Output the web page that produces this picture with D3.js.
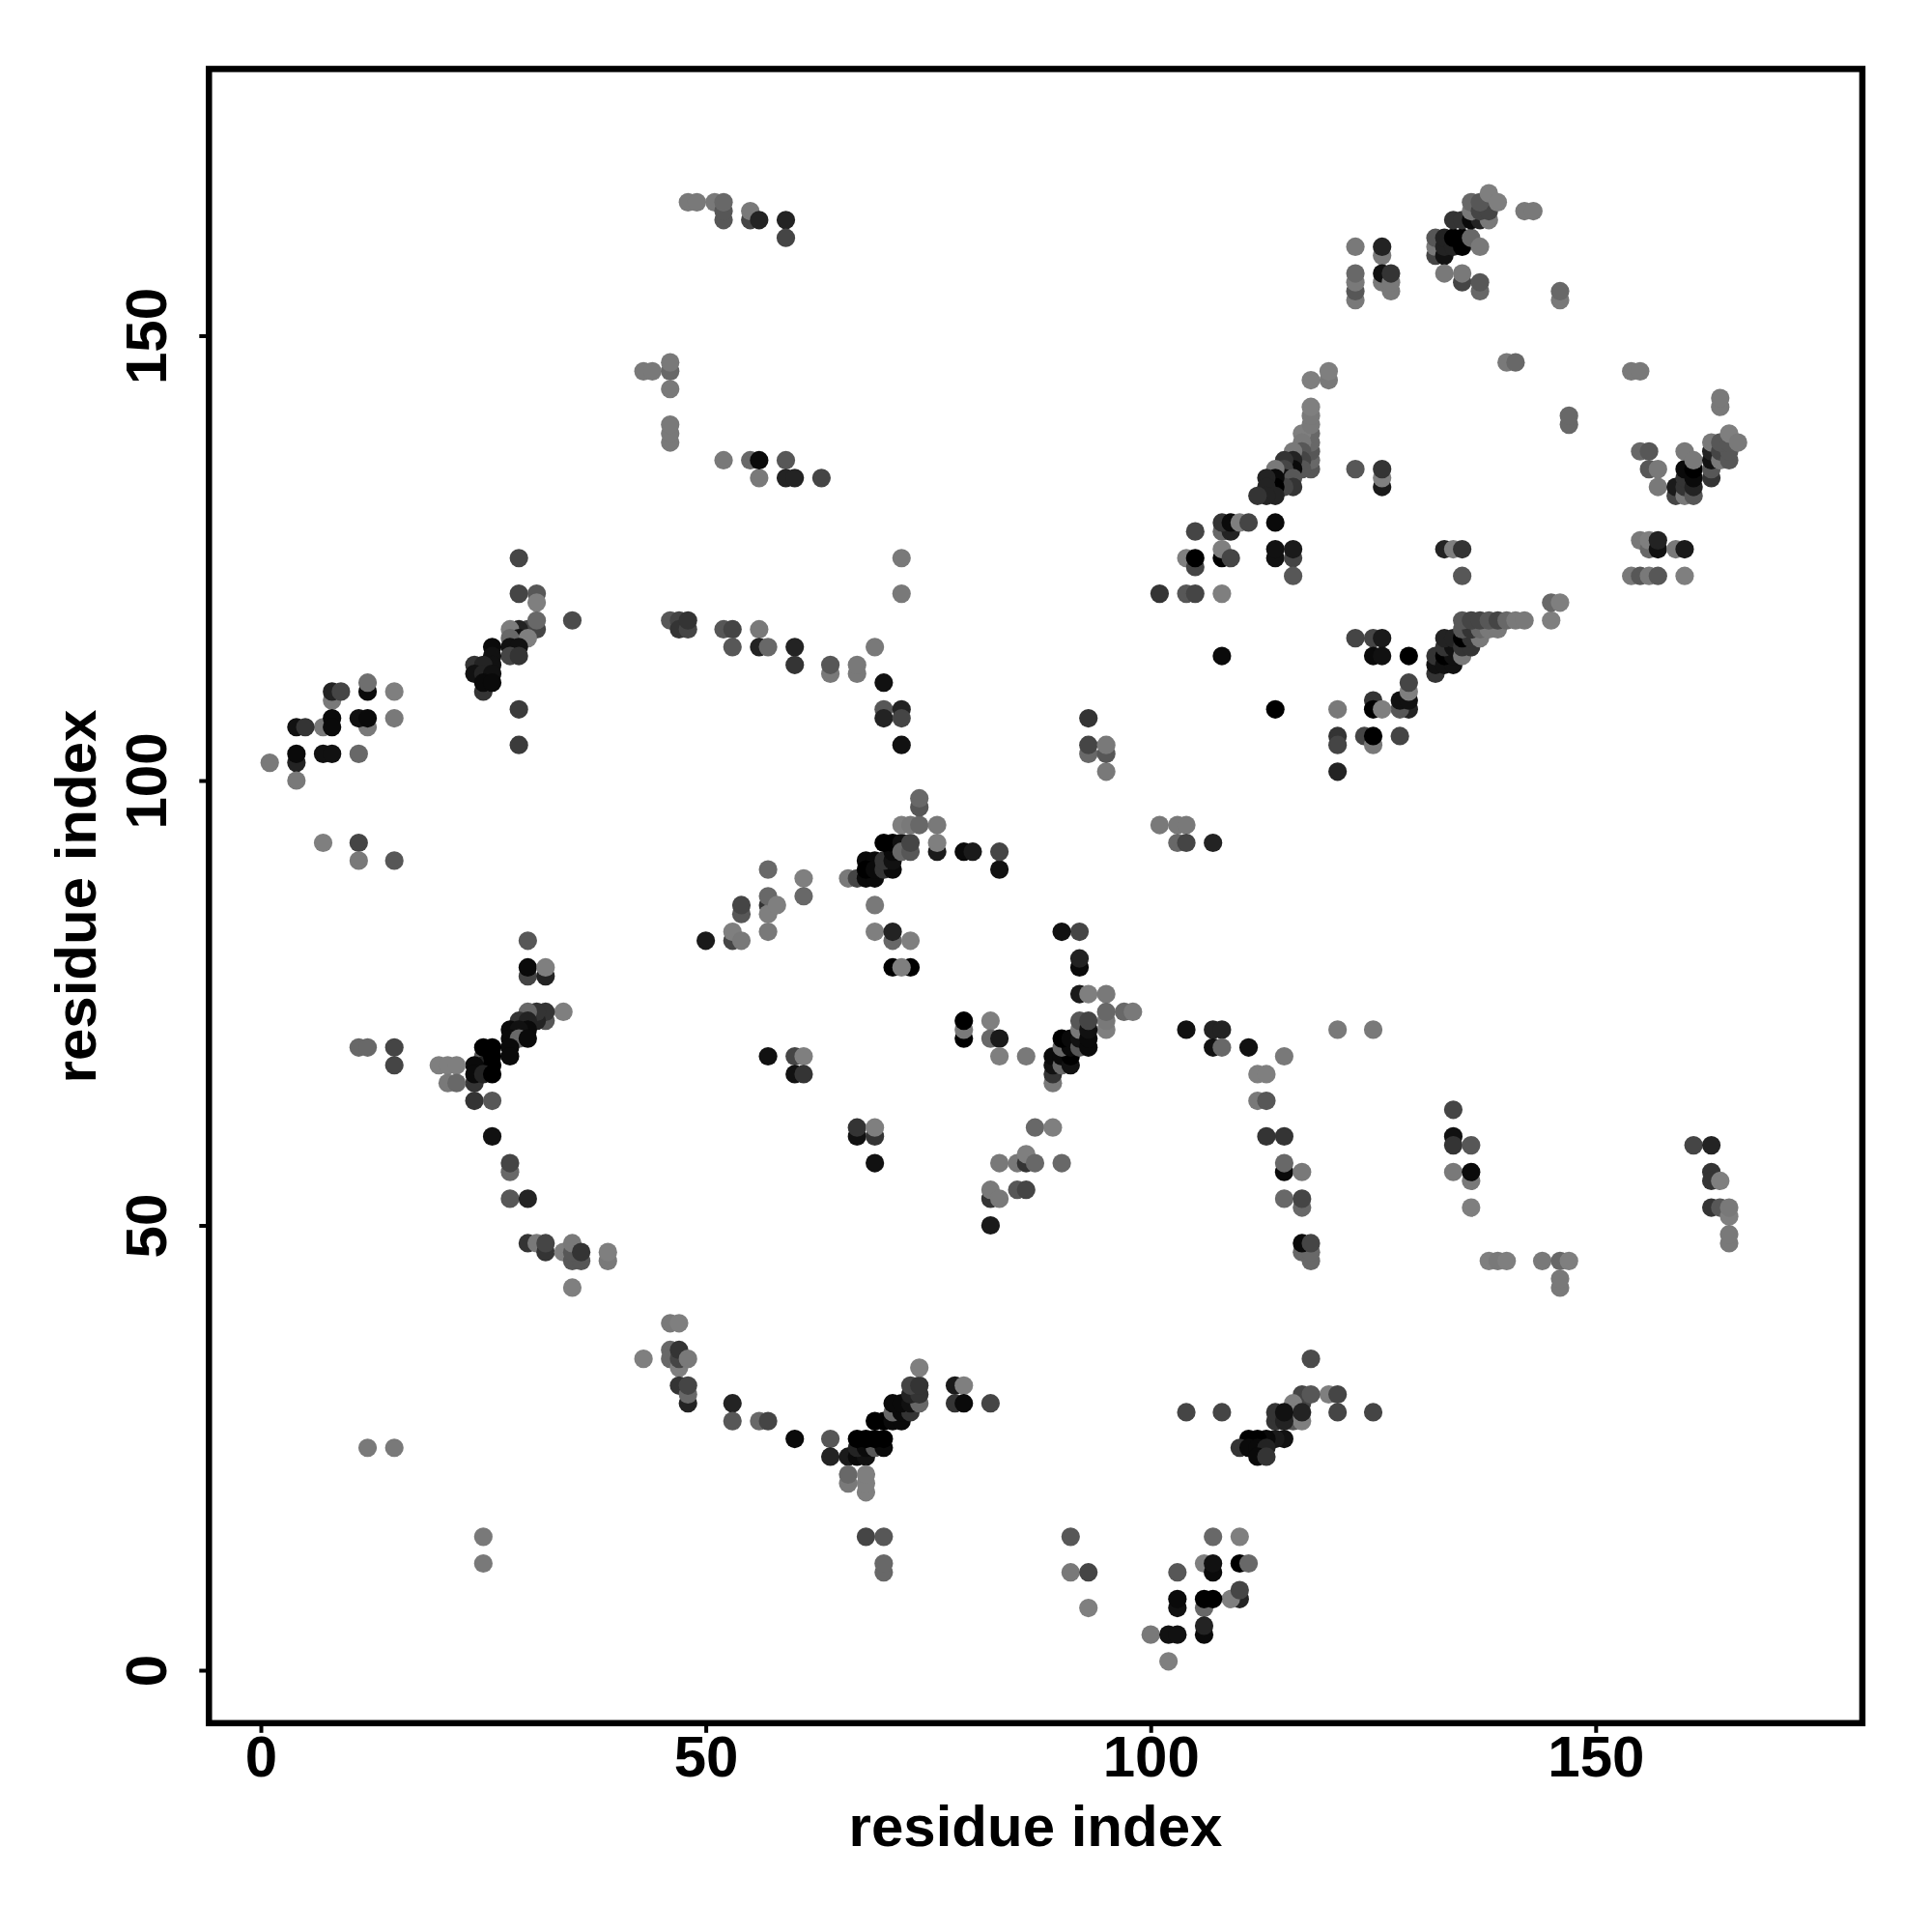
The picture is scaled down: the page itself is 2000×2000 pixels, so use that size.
<!DOCTYPE html>
<html><head><meta charset="utf-8">
<script src="https://cdn.jsdelivr.net/npm/d3@7"></script>
<style>html,body{margin:0;padding:0;background:#fff}svg{display:block}</style>
</head><body><svg id="c" width="2000" height="2000"></svg>
<script>
// each contact: [residue i, residue j, score]
const upperLeftA=[[29,125,47],[29,121,47],[31,121,33],[31,120,2],[35,118,42],[31,117,47],[30,117,47],[29,117,73],[28,117,4],[29,116,87],[28,116,20],[30,116,2],[31,118,20],[28,115,87],[29,115,87],[28,114,47],[29,114,60],[26,115,92],[26,114,87],[26,113,87],[24,113,60],[25,113,73],[24,112,87],[25,112,73],[26,112,87],[25,110,60],[25,111,92],[26,111,92],[29,108,55],[29,104,55]];
const upperLeftB=[[12,110,92],[12,111,15],[15,110,2],[8,109,7],[8,110,73],[9,110,47],[12,106,7],[11,107,87],[12,107,92],[15,107,7],[7,106,7],[8,107,92],[8,106,92],[4,106,87],[5,106,60],[4,102,73],[4,103,92],[7,103,87],[8,103,87],[11,103,20],[1,102,7],[4,100,7],[7,93,2],[11,93,47],[11,91,7],[15,91,33]];
const midLeft=[[30,82,33],[30,78,47],[30,79,92],[32,78,73],[32,79,2],[34,74,2],[32,73,33],[32,74,60],[31,73,73],[31,74,60],[30,74,20],[29,73,60],[30,73,73],[30,72,92],[28,72,92],[29,72,87],[28,71,92],[29,71,20],[30,71,92],[28,70,92],[28,69,92],[25,69,33],[25,68,73],[25,70,100],[26,70,100],[26,69,100],[24,68,92],[26,68,100],[24,66,60],[24,67,92],[25,67,73],[26,67,100],[20,68,2],[21,68,2],[22,68,2],[21,66,7],[22,66,20],[24,64,60],[26,64,33],[26,60,87],[28,56,20],[28,57,47],[28,53,33],[30,53,73],[30,48,60],[31,48,7],[32,47,60],[32,48,47],[34,47,2],[35,46,33],[36,46,33],[35,47,33],[35,48,7],[36,47,60],[39,46,7],[39,47,2],[35,43,2],[11,70,20],[12,70,20],[15,70,47],[15,68,47],[12,25,7],[15,25,7],[25,15,7],[25,12,7]];
const midCentre=[[50,82,80],[53,82,47],[53,83,2],[54,82,7],[54,85,33],[54,86,47],[57,90,20],[57,86,60],[57,85,2],[57,87,20],[58,86,2],[57,83,7],[61,89,2],[61,87,20],[66,89,7],[67,89,47],[68,89,92],[69,89,92],[68,91,92],[69,91,92],[68,90,100],[69,90,92],[70,90,60],[71,90,92],[70,91,60],[71,91,87],[71,92,92],[70,93,100],[71,93,100],[72,93,87],[72,92,20],[73,92,33],[73,93,47],[72,95,2],[73,95,7],[74,95,20],[74,97,33],[74,98,20],[76,92,80],[76,93,2],[76,95,7],[79,92,92],[80,92,80],[83,90,87],[83,92,47],[69,86,7],[69,83,2],[71,82,20],[71,83,73],[73,82,2],[71,79,100],[73,79,100],[72,79,2],[79,71,100],[79,72,7],[79,73,100],[82,73,2],[82,71,20],[83,71,80],[83,69,2],[86,69,7],[57,69,87],[60,69,47],[61,69,2],[60,67,87],[61,67,60],[67,60,87],[69,60,60],[67,61,60],[69,61,2],[69,57,87]];
const lowerCentre=[[46,39,7],[47,39,2],[43,35,2],[46,36,20],[46,35,20],[47,34,2],[47,35,47],[47,36,60],[48,35,7],[47,32,60],[48,30,73],[48,31,20],[48,32,47],[53,30,73],[53,28,33],[56,28,20],[57,28,47],[60,26,92],[64,26,33],[64,24,73],[66,24,80],[67,24,92],[68,24,87],[67,25,73],[68,25,92],[69,25,33],[70,25,92],[67,26,100],[68,26,100],[69,26,100],[70,26,100],[69,28,100],[70,28,100],[71,28,92],[72,28,92],[71,29,20],[72,29,92],[73,29,60],[71,30,92],[72,30,92],[73,30,87],[74,30,20],[73,31,73],[74,31,60],[73,32,47],[74,32,60],[74,34,2],[66,21,7],[66,22,20],[68,20,2],[68,21,2],[68,22,2],[68,15,47],[70,15,33],[70,11,20],[70,12,20],[78,32,80],[79,32,2],[78,30,60],[79,30,92],[82,30,47]];
const lowerRight=[[91,15,33],[91,11,7],[93,11,47],[93,7,2],[118,35,42],[104,29,47],[108,29,47],[121,29,47],[125,29,47],[120,31,2],[121,31,47],[117,31,47],[117,30,47],[116,30,2],[118,31,33],[116,28,33],[117,28,2],[117,29,73],[114,28,60],[114,29,60],[115,28,73],[115,29,87],[115,26,87],[114,26,80],[113,26,92],[112,26,100],[111,26,100],[110,25,60],[111,25,92],[112,25,92],[113,25,73],[112,24,92],[113,24,60],[107,15,20],[110,15,2],[106,12,2],[107,11,92],[107,12,87],[110,12,100],[111,12,20],[103,11,33],[110,8,73],[109,8,2],[110,9,47],[103,7,87],[103,8,92],[106,7,20],[106,8,100],[107,8,100],[106,4,92],[106,5,73],[100,4,7],[102,4,87],[103,4,87],[102,1,2]];
const midRightA=[[92,83,47],[90,83,87],[92,79,92],[92,80,73],[92,76,80],[93,76,2],[95,76,7],[95,72,2],[95,73,7],[95,74,20],[97,74,20],[98,74,7],[89,66,7],[89,67,60],[89,68,87],[89,69,92],[90,68,20],[90,69,92],[91,68,87],[91,69,100],[90,70,20],[91,70,92],[90,71,100],[91,71,92],[92,70,33],[92,71,87],[92,72,7],[92,73,33],[93,70,92],[93,71,92],[93,72,87],[93,73,47],[87,61,20],[89,61,2],[83,57,7],[85,57,7],[86,57,60],[86,58,2],[87,57,20],[90,57,20],[82,53,60],[82,54,7],[83,53,7],[85,54,33],[86,54,47],[82,50,80]];
const midRightB=[[104,72,87],[107,72,73],[108,72,73],[107,70,87],[108,70,20],[111,70,87],[115,69,7],[112,67,2],[113,67,2],[112,64,7],[113,64,33],[113,60,60],[115,60,60],[115,56,92],[115,57,20],[117,56,7],[115,53,20],[117,52,20],[117,53,47],[117,47,20],[118,46,20],[118,47,20],[117,48,92],[118,48,47],[121,72,7],[125,72,7]];
const farRightLow=[[134,63,47],[134,60,87],[134,59,60],[136,59,33],[134,56,7],[136,55,7],[136,56,92],[136,52,2],[138,46,2],[139,46,7],[140,46,2],[144,46,7],[146,46,20],[147,46,2],[146,43,7],[146,44,7],[161,59,47],[163,59,73],[163,56,60],[163,55,60],[164,55,2],[163,52,60],[164,52,33],[165,51,2],[165,52,7],[165,48,7],[165,49,7]];
const diagUpperA=[[118,145,2],[120,145,7],[120,146,2],[118,135,33],[118,136,20],[118,137,33],[118,138,20],[118,139,20],[117,139,2],[117,138,7],[118,140,7],[118,141,7],[118,142,2],[117,137,33],[117,136,47],[117,135,33],[116,137,7],[116,136,73],[116,135,92],[115,136,60],[115,135,47],[115,134,87],[116,134,33],[116,133,60],[115,133,47],[114,135,7],[114,134,92],[114,133,100],[113,134,73],[113,133,73],[114,132,73],[113,132,73],[112,132,60],[108,128,20],[109,128,73],[108,129,60],[109,129,92],[110,129,2],[111,129,47],[105,128,47],[114,129,92],[114,125,87],[114,126,87],[116,125,47],[116,126,80],[116,123,33],[108,125,100],[108,126,2],[109,125,47],[104,125,2],[105,124,47],[105,125,100],[101,121,60],[104,121,33],[105,121,47],[108,121,2],[123,135,33],[126,133,80],[126,134,2],[126,135,60],[133,126,73],[134,126,2],[135,126,60],[135,123,33],[108,114,92],[114,108,100],[121,108,7]];
const diagUpperB=[[123,116,47],[125,116,47],[126,116,80],[125,114,92],[126,114,87],[129,114,100],[129,108,73],[128,108,33],[128,109,87],[129,109,87],[129,110,2],[129,111,47],[125,109,60],[125,108,100],[126,108,2],[121,105,60],[121,104,47],[124,105,47],[125,104,7],[125,105,100],[128,105,47],[121,101,73],[132,112,60],[132,113,87],[132,114,60],[133,113,87],[134,113,87],[133,114,100],[134,114,87],[133,115,60],[134,115,87],[133,116,73],[134,116,73],[135,114,7],[135,115,60],[136,115,60],[135,116,100],[136,116,60],[137,116,7],[135,117,33],[136,117,60],[137,117,20],[138,117,7],[139,117,7],[135,118,33],[136,118,47],[137,118,47],[138,118,33],[139,118,47],[140,118,20],[141,118,7],[142,118,7],[145,118,2],[145,120,20],[146,120,2]];
const topRight=[[123,154,7],[123,155,33],[123,156,7],[123,157,20],[123,160,7],[126,159,7],[126,160,73],[126,156,7],[126,157,87],[127,155,7],[127,156,7],[127,157,60],[132,159,47],[132,160,7],[132,161,33],[133,159,87],[133,160,73],[133,161,73],[134,160,73],[134,161,100],[135,160,100],[135,161,100],[136,161,20],[137,160,7],[134,163,60],[135,163,60],[136,163,92],[137,163,73],[138,163,7],[136,164,7],[136,165,20],[137,164,47],[138,164,47],[137,165,33],[138,166,2],[139,165,2],[142,164,7],[143,164,7],[133,157,7],[135,156,47],[135,157,7],[137,155,20],[137,156,33],[146,154,7],[146,155,20],[140,147,7],[141,147,20],[147,140,20],[147,141,20]];
const farRightUp=[[154,146,7],[155,146,7],[164,142,7],[164,143,7],[155,137,20],[156,137,33],[156,135,33],[157,135,7],[157,133,7],[159,132,47],[159,133,80],[160,132,7],[160,133,60],[160,134,60],[160,135,92],[161,132,33],[161,133,73],[161,134,92],[161,135,100],[160,137,7],[161,136,7],[163,134,60],[163,135,33],[163,136,87],[163,137,73],[163,138,7],[164,136,7],[164,137,47],[165,136,33],[165,137,33],[164,138,33],[165,138,33],[165,139,2],[166,138,7],[155,127,7],[156,126,20],[156,127,2],[157,126,87],[157,127,73],[159,126,7],[160,126,80],[154,123,7],[155,123,33],[156,123,7],[157,123,33],[160,123,2]];
const upperCentre=[[48,165,7],[49,165,7],[51,165,7],[52,163,33],[52,164,33],[52,165,20],[55,163,47],[55,164,7],[56,163,73],[59,163,73],[59,161,47],[43,146,7],[44,146,7],[46,146,20],[46,147,7],[46,144,7],[46,138,7],[46,139,7],[46,140,7],[52,136,7],[55,136,20],[56,134,7],[56,136,92],[59,136,33],[59,134,73],[60,134,73],[63,134,47],[72,125,7],[72,121,7],[46,118,33],[47,118,47],[47,117,60],[48,117,47],[48,118,60],[52,117,33],[53,117,47],[53,115,33],[56,117,7],[56,115,73],[57,115,20],[60,115,73],[60,113,60],[64,112,7],[64,113,33],[67,112,7],[67,113,7],[69,115,7],[70,111,87],[70,108,33],[70,107,73],[72,108,73],[72,107,47],[72,104,87],[93,107,60],[93,103,20],[93,104,47],[95,101,7],[95,103,33],[95,104,7],[101,95,7],[103,95,7],[104,95,7],[103,93,20],[104,93,47],[107,93,73]];

const contacts=[upperLeftA,upperLeftB,midLeft,midCentre,lowerCentre,lowerRight,midRightA,midRightB,farRightLow,diagUpperA,diagUpperB,topRight,farRightUp,upperCentre].flat();
const axisTicks=[0,50,100,150];
const axisLabel="residue index";

const svg=d3.select("#c");
const x=d3.scaleLinear().domain([-5.83,179.97]).range([216.3,1927.9]);
const y=d3.scaleLinear().domain([-5.95,179.98]).range([1783.8,71.4]);
const shade=d3.scaleLinear().domain([0,100]).range(["#828282","#000000"]);
const font="'Liberation Sans',Arial,sans-serif";

svg.append("rect").attr("width",2000).attr("height",2000).attr("fill","#fff");
svg.append("g").selectAll("circle").data(contacts).join("circle")
  .attr("cx",d=>x(d[0])).attr("cy",d=>y(d[1])).attr("r",9.6)
  .attr("fill",d=>shade(d[2]));

const ax=svg.append("g").attr("transform","translate(0,1783.8)")
  .call(d3.axisBottom(x).tickValues(axisTicks).tickSize(10).tickPadding(6).tickFormat(d3.format("d")));
const ay=svg.append("g").attr("transform","translate(216.3,0)")
  .call(d3.axisLeft(y).tickValues(axisTicks).tickSize(10).tickFormat(d3.format("d")));
[ax,ay].forEach(g=>{g.select(".domain").remove();g.selectAll("line").attr("stroke","#000").attr("stroke-width",4);
  g.selectAll("text").attr("fill","#000").style("font-family",font).style("font-weight","700").style("font-size","60px");});
ax.selectAll("text").attr("y",null).attr("dy",null).attr("text-anchor","middle").attr("transform",null).each(function(){d3.select(this).attr("y",55);});
ay.selectAll("text").attr("x",null).attr("dy",null).attr("text-anchor","middle").attr("transform","translate(-44.3,0) rotate(-90)").attr("y",0);

svg.append("rect").attr("x",x.range()[0]).attr("y",y.range()[1])
  .attr("width",x.range()[1]-x.range()[0]).attr("height",y.range()[0]-y.range()[1])
  .attr("fill","none").attr("stroke","#000").attr("stroke-width",6.5);

svg.append("text").attr("x",1072).attr("y",1911).attr("text-anchor","middle")
  .style("font-family",font).style("font-weight","700").style("font-size","60px").text(axisLabel);
svg.append("text").attr("transform","translate(99,928) rotate(-90)").attr("text-anchor","middle")
  .style("font-family",font).style("font-weight","700").style("font-size","60px").text(axisLabel);
</script></body></html>
